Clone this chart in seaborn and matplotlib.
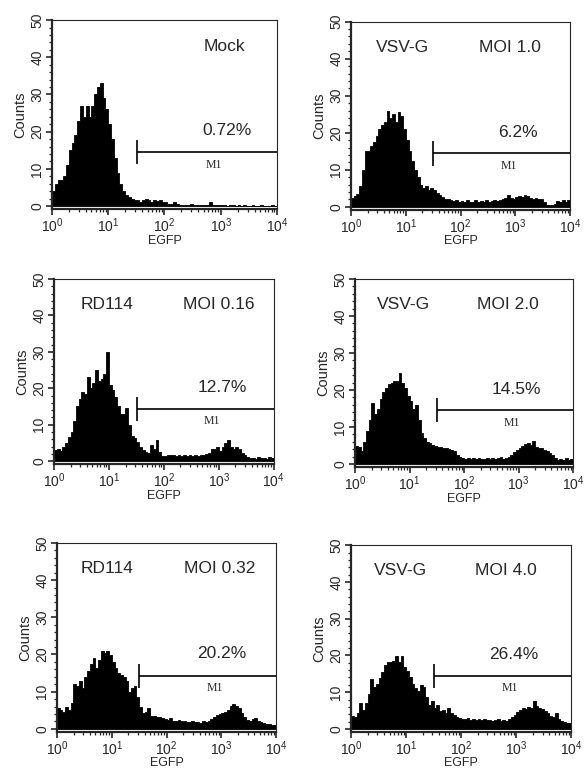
import numpy as np
import matplotlib
matplotlib.use("Agg")
import matplotlib.pyplot as plt
from matplotlib.ticker import MultipleLocator, LogLocator, NullFormatter
import seaborn as sns

# 80 log-spaced channels covering 10^0 .. 10^4 (20 per decade)
n_bins = 80
channels = np.logspace(0.025, 3.975, n_bins)

mock = [4, 6, 7, 7, 8, 11, 15, 17, 19, 23,
        27, 24, 27, 24, 27, 30, 32, 33, 29, 26,
        22, 18, 13, 9, 6, 4, 3, 2.5, 2, 1.5,
        1.5, 1.2, 1.5, 2, 1.5, 1.2, 1.5, 1.3, 1.5, 1,
        1.2, 0.6, 0.5, 1.2, 0.5, 0.4, 0.4, 0.3, 0.3, 0.5,
        0.3, 0.3, 0.2, 0.3, 0.2, 0.3, 1, 0.3, 0.2, 0.2,
        0.3, 0.2, 0.1, 0.2, 0.2, 0.1, 0.2, 0.1, 0.2, 0.1,
        0.1, 0.2, 0.1, 0.1, 0.2, 0.1, 0.1, 0.1, 0.2, 0.1]

vsvg_moi_1 = [2.5, 3, 3.5, 5.5, 10, 15, 15, 16.5, 17.5, 19,
              21, 22, 23, 26, 24, 25, 23, 25.5, 24.5, 21,
              18, 15, 12.5, 10, 8, 6, 5, 5.5, 4.5, 5,
              4.5, 3.8, 3.3, 2.6, 2.2, 2, 1.8, 1.5, 1.8, 1.4,
              1.6, 1.2, 1.8, 1.4, 1.2, 1.7, 1.3, 1.6, 1.3, 1.8,
              1.4, 1.6, 1.8, 1.5, 1.8, 2, 2.3, 3.2, 2.4, 2.2,
              2.6, 2.8, 2.7, 3.3, 2.8, 2.5, 2.2, 2.3, 2.1, 2,
              1.4, 0.6, 0.5, 0.6, 0.8, 1.6, 1.2, 1.7, 1.2, 1.8]

rd114_moi_016 = [3, 3.2, 2.8, 4, 5, 6.5, 8, 11, 15, 17,
                 19, 18.5, 23, 20, 21.5, 25, 22, 22.5, 24, 30,
                 21, 19.5, 17.5, 15, 13, 13, 14.5, 10, 7, 6.3,
                 5.3, 4, 3, 2.5, 2.2, 4.5, 3.2, 5.8, 2.5, 1.4,
                 1.3, 1.6, 1.8, 1.6, 1.5, 1.7, 1.4, 1.6, 1.3, 1.7,
                 1.5, 1.6, 1.4, 1.8, 1.6, 2, 2.3, 3.2, 3.4, 3.8,
                 2.8, 3.8, 5, 5.8, 3.8, 3.2, 4, 3.2, 2.3, 1.6,
                 1.2, 0.9, 0.9, 0.7, 1, 0.8, 0.9, 0.7, 1, 0.8]

vsvg_moi_2 = [5, 4.5, 3.5, 6, 9, 12, 16.5, 13.5, 15, 17.5,
              19.5, 20.5, 21.5, 22, 22.5, 22.5, 24.5, 22, 20.5, 18.5,
              17, 15, 16, 12, 8.5, 7, 6, 5.6, 5.2, 5,
              4.6, 4.5, 4.3, 4.4, 4, 3.8, 3.6, 2.5, 2, 1.6,
              1.5, 1.7, 1.4, 1.6, 1.3, 1.7, 1.5, 1.4, 1.7, 1.5,
              1.6, 1.3, 1.6, 1.8, 1.5, 1.6, 1.8, 2.5, 3.2, 3.8,
              4.4, 4.8, 5.3, 5.6, 5.2, 6.1, 4.5, 4.3, 4.4, 3.8,
              3.4, 3, 2.4, 1.6, 1.2, 1.4, 1, 1.6, 1.1, 1.5]

rd114_moi_032 = [5.5, 5, 4.5, 5.8, 5, 7, 12, 11.5, 12.8, 11,
                 14, 15.5, 17.5, 19, 16.5, 18.5, 21, 20.5, 21, 19.8,
                 18, 16.5, 15, 14.5, 14, 12.8, 10, 11, 11.5, 8.5,
                 6, 4.2, 4.5, 5.5, 3.5, 3.4, 3.2, 3.1, 3, 2.6,
                 2.4, 2.9, 2.2, 2.1, 2.4, 2, 2.2, 1.9, 1.8, 2,
                 1.8, 1.9, 1.7, 2, 1.9, 2.2, 2.6, 3.1, 3.6, 4,
                 4.2, 4.4, 5.2, 6.2, 6.8, 6.2, 5.5, 4.2, 3.2, 2.4,
                 2.2, 2.6, 2.9, 2.2, 1.8, 1.5, 1.3, 1.2, 1, 0.9]

vsvg_moi_4 = [3.5, 3.3, 4.3, 7, 5.2, 7, 9.5, 13.5, 11.5, 12.2,
              13.8, 15.5, 17.5, 18.2, 18.3, 18.5, 19.8, 18.3, 19.8, 16.8,
              15.7, 14, 12.3, 11, 10.4, 12, 11.5, 8.7, 6.5, 7.5,
              5.8, 6.5, 4.8, 5.2, 4.3, 5.7, 4.2, 3.8, 3.3, 3,
              2.8, 2.6, 3, 2.5, 2.7, 2.4, 2.6, 2.5, 2.8, 2.4,
              2.5, 2.2, 2.4, 2.6, 2.2, 2.5, 2.1, 2.6, 3.2, 3.8,
              4.7, 5.2, 5.7, 5.5, 5.9, 5.8, 7.5, 6.2, 5.6, 5.3,
              4.8, 4.2, 3.6, 3.3, 4.2, 2.6, 2.2, 1.8, 1.7, 1.6]

histograms = [mock, vsvg_moi_1, rd114_moi_016, vsvg_moi_2, rd114_moi_032, vsvg_moi_4]
first_channel = [27, 27, 26, 26.5, 26, 26]   # pile-up in channel 10^0

vectors = ["", "VSV-G", "RD114", "VSV-G", "RD114", "VSV-G"]
conditions = ["Mock", "MOI 1.0", "MOI 0.16", "MOI 2.0", "MOI 0.32", "MOI 4.0"]
percents = ["0.72%", "6.2%", "12.7%", "14.5%", "20.2%", "26.4%"]
gate_start = [32, 31, 33, 32, 32, 32]
gate_level = [14.5, 14.4, 14.3, 14.6, 14.2, 14.5]

# axes rectangles (left, bottom, width, height) in figure fraction
rects = [
    (0.0887, 0.730, 0.384, 0.244),
    (0.599, 0.729, 0.374, 0.243),
    (0.0922, 0.4005, 0.375, 0.239),
    (0.606, 0.3966, 0.372, 0.243),
    (0.0973, 0.0545, 0.374, 0.244),
    (0.599, 0.0545, 0.376, 0.241),
]
vector_x = [0.0, 0.236, 0.242, 0.224, 0.227, 0.225]
cond_x = [0.766, 0.726, 0.75, 0.70, 0.74, 0.705]
pct_x = [0.78, 0.76, 0.768, 0.74, 0.75, 0.74]

sns.set_style("ticks")
plt.rcParams["font.family"] = ["Liberation Sans", "DejaVu Sans"]
plt.rcParams["mathtext.fontset"] = "custom"
plt.rcParams["mathtext.rm"] = "Liberation Sans"
plt.rcParams["mathtext.it"] = "Liberation Sans:italic"
plt.rcParams["mathtext.bf"] = "Liberation Sans:bold"

fig = plt.figure(figsize=(5.86, 7.74), dpi=100)

for i, counts in enumerate(histograms):
    ax = fig.add_axes(rects[i])
    sns.histplot(x=channels, weights=counts, bins=n_bins, binrange=(0, 4),
                 log_scale=True, element="step", fill=True, color="black",
                 alpha=1, linewidth=0.6, ax=ax)
    sns.histplot(x=[1.0], weights=[first_channel[i]], bins=1, binrange=(0, 0.012),
                 log_scale=True, element="bars", fill=True, color="black",
                 alpha=1, linewidth=0, ax=ax)
    ax.set_xlim(1, 1e4)
    ax.set_ylim(-0.8, 50)

    # M1 gate marker
    ax.hlines(gate_level[i], gate_start[i], 1e4, color="black", lw=1.2)
    ax.vlines(gate_start[i], gate_level[i] - 3.3, gate_level[i] + 3.3, color="black", lw=1.2)
    ax.text(10 ** (0.72 * 4), 11, "M1", family=["Liberation Serif", "DejaVu Serif"],
            fontsize=8.5, ha="center", va="center")
    ax.text(pct_x[i], 20.2, percents[i], transform=ax.get_yaxis_transform(),
            fontsize=12.5, ha="center", va="center")
    if vectors[i]:
        ax.text(vector_x[i], 43, vectors[i], transform=ax.get_yaxis_transform(),
                fontsize=12.5, ha="center", va="center")
    ax.text(cond_x[i], 43, conditions[i], transform=ax.get_yaxis_transform(),
            fontsize=12.5, ha="center", va="center")

    ax.yaxis.set_major_locator(MultipleLocator(10))
    ax.yaxis.set_minor_locator(MultipleLocator(2))
    ax.xaxis.set_major_locator(LogLocator(base=10, numticks=10))
    ax.xaxis.set_minor_locator(LogLocator(base=10, subs=np.arange(2, 10), numticks=20))
    ax.xaxis.set_minor_formatter(NullFormatter())
    ax.tick_params(which="major", length=4, width=1.2, labelsize=10, pad=1.5)
    ax.tick_params(which="minor", length=2.2, width=0.9)
    ax.tick_params(axis="y", labelrotation=90)
    for lab in ax.get_yticklabels():
        lab.set_va("center")

    for side in ["left", "bottom"]:
        ax.spines[side].set_linewidth(1.6)
    for side in ["top", "right"]:
        ax.spines[side].set_linewidth(0.8)
        ax.spines[side].set_visible(True)

    ax.set_ylabel("Counts", fontsize=10.5, labelpad=2)
    ax.set_xlabel("EGFP", fontsize=9, labelpad=-0.5)

fig.savefig("out.png", dpi=100)
